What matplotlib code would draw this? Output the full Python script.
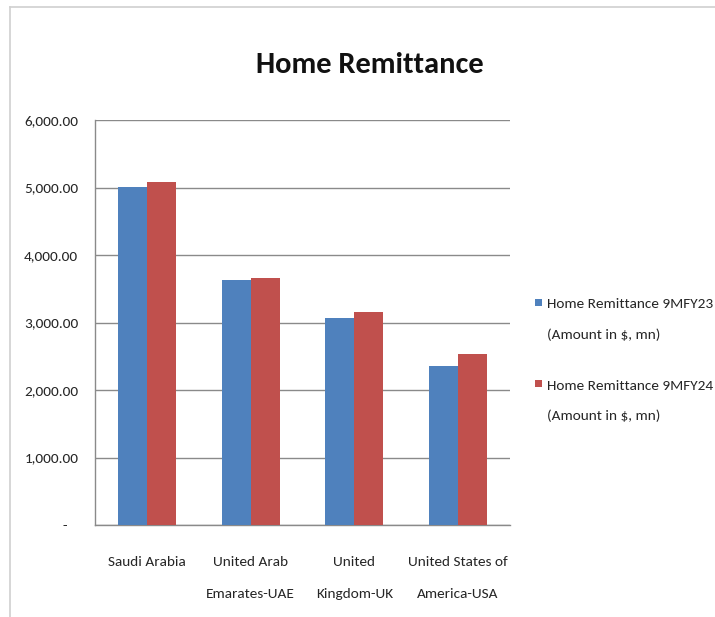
import matplotlib
matplotlib.use("Agg")
import matplotlib.pyplot as plt
from matplotlib import font_manager as fm
from matplotlib.patches import Rectangle
from matplotlib.legend_handler import HandlerPatch
from matplotlib.lines import Line2D
import numpy as np

categories = ["Saudi Arabia", "United Arab\nEmarates-UAE", "United\nKingdom-UK", "United States of\nAmerica-USA"]
series_names = ["Home Remittance 9MFY23\n(Amount in $, mn)", "Home Remittance 9MFY24\n(Amount in $, mn)"]
fy23 = [5010, 3630, 3060, 2360]
fy24 = [5080, 3660, 3160, 2530]
yticks = [0, 1000, 2000, 3000, 4000, 5000, 6000]
title = "Home Remittance"

# pick a narrow (Calibri-like) family if present
names = {f.name for f in fm.fontManager.ttflist}
stretch = "normal"
fam = None
for cand in ["Carlito", "Liberation Sans Narrow", "Roboto Condensed", "Open Sans Condensed", "Noto Sans Condensed"]:
    if cand in names:
        fam = cand
        break
if fam is None:
    fam = "Lato"
plt.rcParams['font.family'] = [fam, 'DejaVu Sans']
plt.rcParams['font.stretch'] = stretch

BLUE = "#4F81BD"
RED = "#C0504D"
GRID = "#8a8a8a"
TXT = "#262626"

fig = plt.figure(figsize=(7.15, 6.17), dpi=100)
ax = fig.add_axes([95/715, 1-525/617, (510-95)/715, (525-120)/617])

x = np.arange(len(categories))
w = 0.28
ax.bar(x - w/2, fy23, w, color=BLUE, label=series_names[0], zorder=3)
ax.bar(x + w/2, fy24, w, color=RED, label=series_names[1], zorder=3)

ax.set_xlim(-0.5, len(categories) - 0.5)
ax.set_ylim(0, 6000)
ax.set_yticks(yticks)
ax.set_yticklabels(["-   " if v == 0 else f"{v:,.2f}" for v in yticks])
ax.set_xticks(x)
ax.set_xticklabels(categories, linespacing=3.05)
ax.yaxis.grid(True, color=GRID, linewidth=1.0, zorder=0)
ax.set_axisbelow(True)
for s in ["top", "right"]:
    ax.spines[s].set_visible(False)
for s in ["left", "bottom"]:
    ax.spines[s].set_color(GRID)
    ax.spines[s].set_linewidth(1.0)
ax.tick_params(axis="y", length=0, pad=12, labelsize=11, labelcolor=TXT)
ax.tick_params(axis="x", length=0, pad=22, labelsize=11, labelcolor=TXT)

fig.text(370/715, 1-73/617, title, ha="center", va="baseline", fontsize=22, fontweight="bold", color="#111111")

# chart border lines
fig.add_artist(Line2D([10/715, 10/715], [0, 1-7/617], transform=fig.transFigure, color="#d0d0d0", lw=1.2))
fig.add_artist(Line2D([10/715, 1], [1-7/617, 1-7/617], transform=fig.transFigure, color="#d0d0d0", lw=1.2))

class TopSquare(HandlerPatch):
    def create_artists(self, legend, orig_handle, xdescent, ydescent, width, height, fontsize, trans):
        shift = 12.0
        p = Rectangle((width - 5, -ydescent + height/2 - 2.5 + shift), 5, 5,
                      facecolor=orig_handle.get_facecolor(), edgecolor="none", transform=trans)
        return [p]

h1 = Rectangle((0, 0), 1, 1, facecolor=BLUE)
h2 = Rectangle((0, 0), 1, 1, facecolor=RED)
leg = fig.legend([h1, h2], series_names, loc="upper left", bbox_to_anchor=(533/715, 1-298/617),
                 frameon=False, fontsize=11, handlelength=0.6, handletextpad=0.3,
                 labelspacing=2.55, borderpad=0, borderaxespad=0,
                 handler_map={Rectangle: TopSquare()})
for t in leg.get_texts():
    t.set_linespacing(2.7)
    t.set_color(TXT)

fig.savefig("out.png", dpi=100)
